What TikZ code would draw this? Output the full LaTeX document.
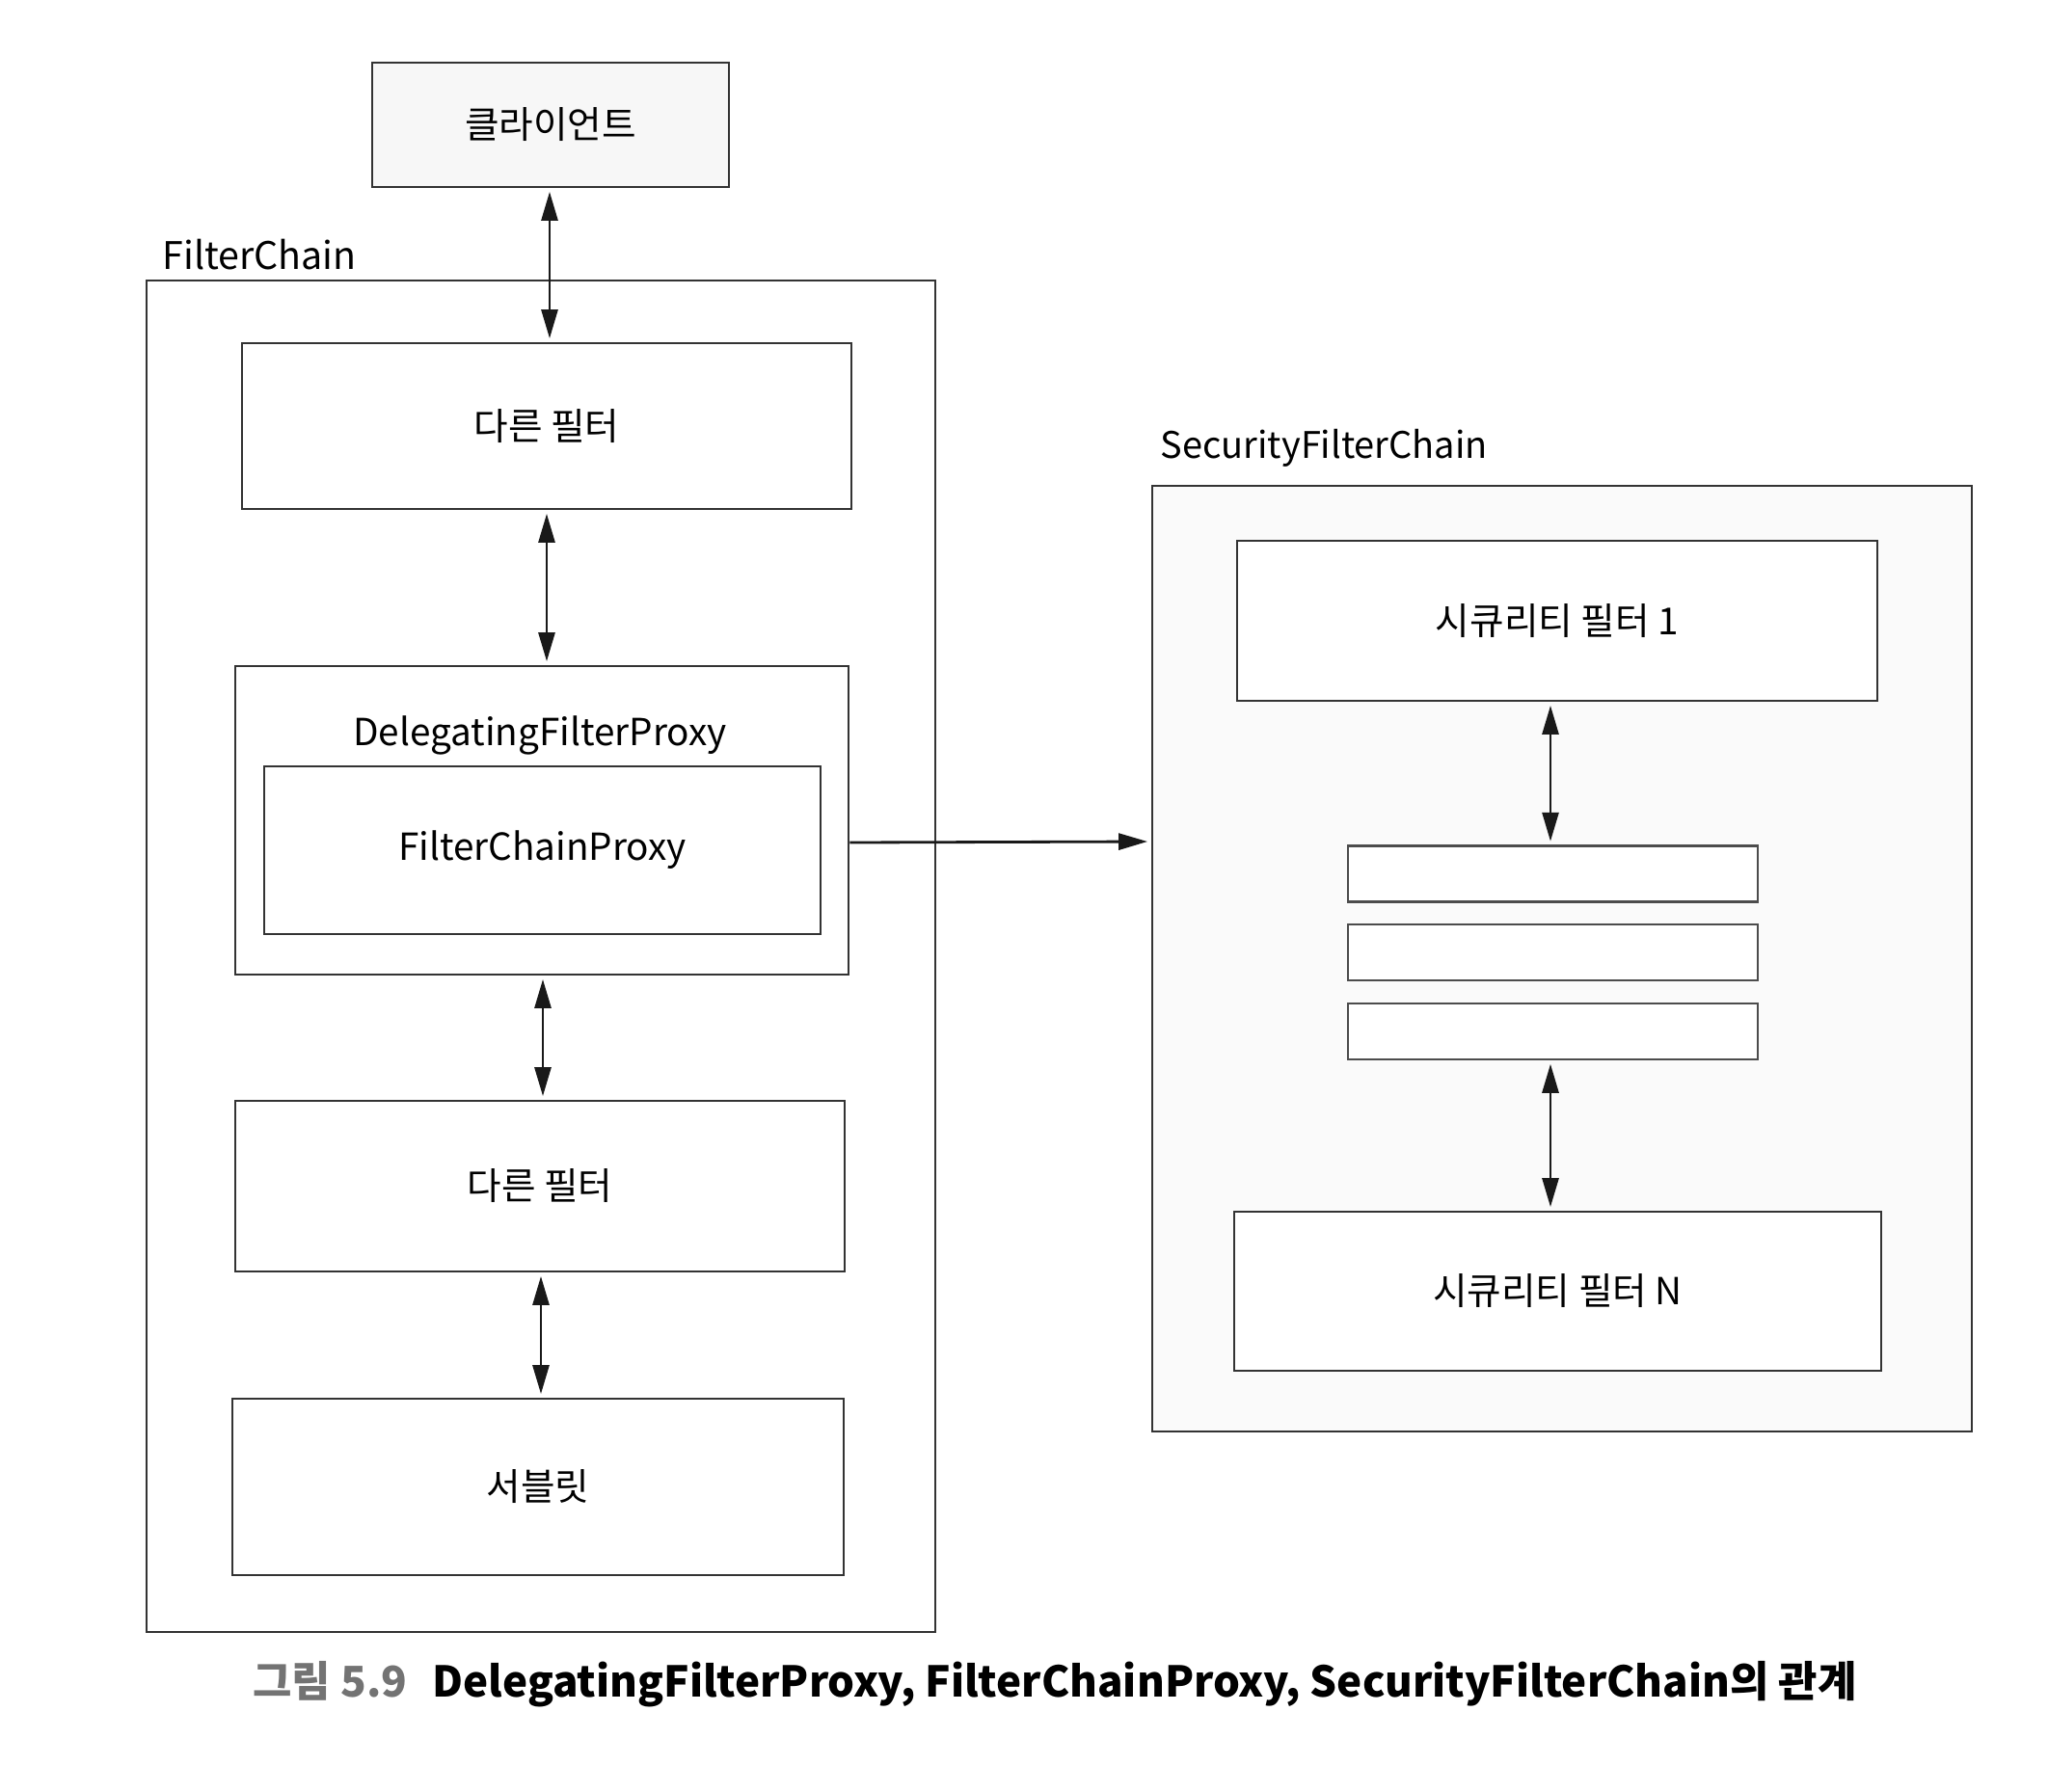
\documentclass[tikz,border=0pt]{standalone}
\usepackage{fontspec}
\setmainfont{Noto Sans CJK KR}
\usepackage{tikz}
\usetikzlibrary{arrows.meta, positioning}

\begin{document}
\begin{tikzpicture}[
    box/.style={draw=black!80, line width=0.8pt, fill=white, inner sep=0pt, font=\fontsize{11}{13}\selectfont},
    chain/.style={draw=black!80, line width=0.8pt, inner sep=0pt},
    small-box/.style={draw=black!70, line width=0.7pt, fill=white, minimum width=4.25cm, minimum height=0.58cm, inner sep=0pt},
    title/.style={anchor=west, inner sep=0pt, font=\fontsize{11.2}{13}\selectfont},
    flow/.style={draw=black!90, line width=0.8pt, {Triangle[length=3mm, width=1.7mm]}-{Triangle[length=3mm, width=1.7mm]}, shorten <=1pt, shorten >=1pt},
    link/.style={draw=black!90, line width=0.8pt, -{Triangle[length=3mm, width=1.7mm]}, shorten >=1pt}
]
    \useasboundingbox (0,0) rectangle (21.24,-18.59);

    \node[box, fill=black!3, minimum width=3.70cm, minimum height=1.29cm] (client) at (5.71,-1.295) {클라이언트};

    \node[chain, minimum width=8.18cm, minimum height=14.02cm] (fchain) at (5.61,-9.92) {};
    \node[title] (fchain-label) at (1.68,-2.64) {FilterChain};

    \node[box, minimum width=6.32cm, minimum height=1.72cm] (filter1) at (5.67,-4.42) {다른 필터};
    \node[box, minimum width=6.36cm, minimum height=3.20cm] (dfp) at (5.62,-8.51) {};
    \node[inner sep=0pt, font=\fontsize{11}{13}\selectfont] (dfp-label) at (5.60,-7.63) {DelegatingFilterProxy};
    \node[box, minimum width=5.77cm, minimum height=1.74cm] (fcp) at (5.625,-8.82) {FilterChainProxy};
    \node[box, minimum width=6.32cm, minimum height=1.77cm] (filter2) at (5.60,-12.305) {다른 필터};
    \node[box, minimum width=6.34cm, minimum height=1.83cm] (servlet) at (5.58,-15.425) {서블릿};

    \node[chain, fill=black!2, minimum width=8.50cm, minimum height=9.81cm] (sfc) at (16.20,-9.945) {};
    \node[title, font=\fontsize{10.8}{13}\selectfont] (sfc-label) at (12.03,-4.65) {SecurityFilterChain};

    \node[box, minimum width=6.64cm, minimum height=1.66cm] (sf1) at (16.15,-6.44) {시큐리티 필터 1};
    \node[small-box] (mid1) at (16.105,-9.065) {};
    \node[small-box] (mid2) at (16.105,-9.88) {};
    \node[small-box] (mid3) at (16.105,-10.70) {};
    \node[box, minimum width=6.71cm, minimum height=1.65cm] (sfn) at (16.155,-13.395) {시큐리티 필터 N};

    \draw[flow] (client.south -| 5.70,0) -- (filter1.north -| 5.70,0);
    \draw[flow] (filter1.south -| 5.67,0) -- (dfp.north -| 5.67,0);
    \draw[flow] (dfp.south -| 5.63,0) -- (filter2.north -| 5.63,0);
    \draw[flow] (filter2.south -| 5.61,0) -- (servlet.north -| 5.61,0);

    \draw[flow] (sf1.south -| 16.08,0) -- (mid1.north -| 16.08,0);
    \draw[flow] (mid3.south -| 16.08,0) -- (sfn.north -| 16.08,0);

    \draw[link] (dfp.east |- 0,-8.74) -- (sfc.west |- 0,-8.73);

    \node[font=\fontsize{12.5}{15}\selectfont\bfseries] (caption) at (10.94,-17.47) {\textcolor{black!55}{그림 5.9}\hspace{0.6em}DelegatingFilterProxy, FilterChainProxy, SecurityFilterChain의 관계};

\end{tikzpicture}
\end{document}
